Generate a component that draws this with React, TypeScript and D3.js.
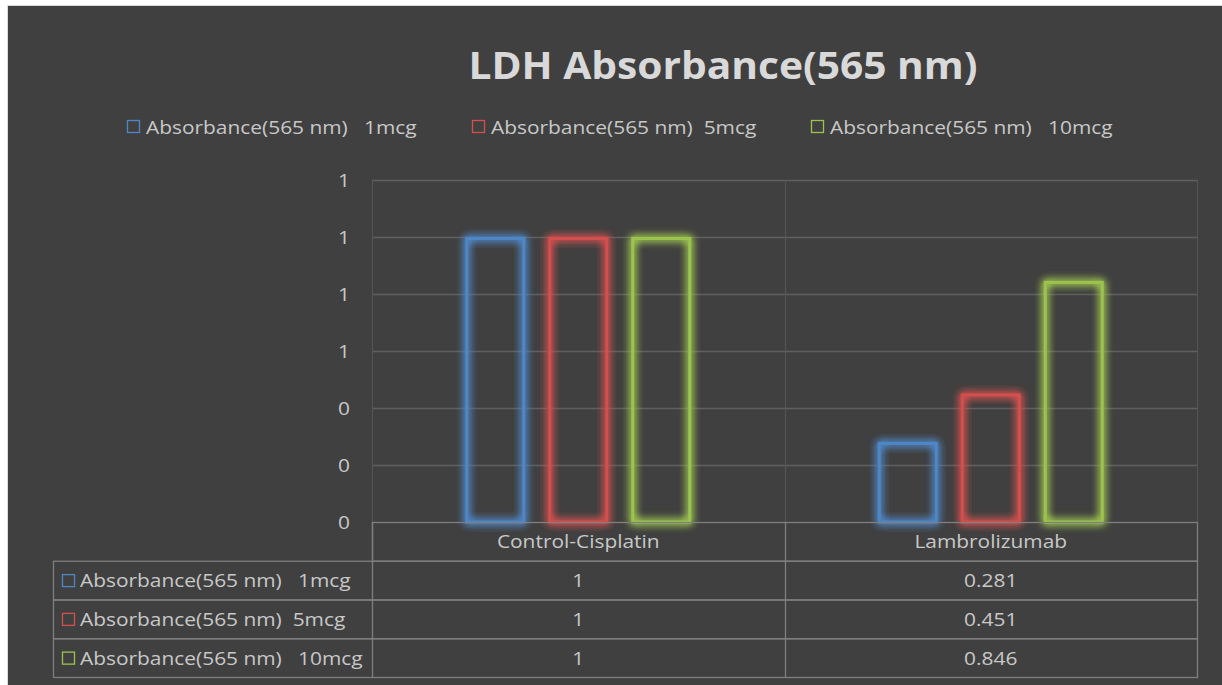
import { useEffect, useRef } from 'react';
import * as d3 from 'd3';

const categories = ['Control-Cisplatin', 'Lambrolizumab'];
const seriesNames = ['Absorbance(565 nm)   1mcg', 'Absorbance(565 nm)  5mcg', 'Absorbance(565 nm)   10mcg'];
const seriesColors = ['#4f86c6', '#d2504e', '#9dc34f'];
const values = [
  [1, 0.281],
  [1, 0.451],
  [1, 0.846],
];
const tableLabels = [
  ['1', '0.281'],
  ['1', '0.451'],
  ['1', '0.846'],
];
const yTicks = [0, 0.2, 0.4, 0.6, 0.8, 1.0, 1.2];

const FONT = '"Open Sans", Lato, sans-serif';
const TXT = '#c8c8c8';
const STRETCH = 1.1; // source font is wider than anything installed

export default function App() {
  const svgRef = useRef<SVGSVGElement>(null);

  useEffect(() => {
    if (!svgRef.current) return;
    const svg = d3.select(svgRef.current);
    svg.selectAll('*').remove();

    const width = 1222;
    const height = 685;
    const plot = { left: 372, right: 1197, top: 180, bottom: 522 };

    // background + border
    svg.append('rect').attr('width', width).attr('height', height).attr('fill', '#ffffff');
    svg
      .append('rect')
      .attr('x', 7.5)
      .attr('y', 5.5)
      .attr('width', width)
      .attr('height', height)
      .attr('fill', '#404040')
      .attr('stroke', '#d9d9d9')
      .attr('stroke-width', 1);

    // glow filters
    const defs = svg.append('defs');
    seriesColors.forEach((c, i) => {
      const f = defs
        .append('filter')
        .attr('id', `glow${i}`)
        .attr('x', '-30%')
        .attr('y', '-30%')
        .attr('width', '160%')
        .attr('height', '160%');
      f.append('feGaussianBlur').attr('in', 'SourceGraphic').attr('stdDeviation', 4.5).attr('result', 'b');
      f.append('feComponentTransfer')
        .attr('in', 'b')
        .attr('result', 'b2')
        .append('feFuncA')
        .attr('type', 'linear')
        .attr('slope', 2.6);
      const m = f.append('feMerge');
      m.append('feMergeNode').attr('in', 'b2');
      m.append('feMergeNode').attr('in', 'SourceGraphic');
    });

    const addText = (tx: number, ty: number, s: string, anchor = 'start', size = 19) =>
      svg
        .append('text')
        .attr('transform', `translate(${tx},${ty}) scale(${STRETCH},1)`)
        .attr('text-anchor', anchor)
        .attr('fill', TXT)
        .attr('font-family', FONT)
        .attr('font-size', size)
        .style('white-space', 'pre')
        .text(s);

    // title
    addText(723, 79, 'LDH Absorbance(565 nm)', 'middle', 37)
      .attr('fill', '#d9d9d9')
      .attr('font-weight', 'bold');

    // legend
    const legendX = [127, 472, 811];
    seriesNames.forEach((name, i) => {
      svg
        .append('rect')
        .attr('x', legendX[i] + 0.5)
        .attr('y', 120.5)
        .attr('width', 12)
        .attr('height', 12)
        .attr('fill', 'none')
        .attr('stroke', seriesColors[i])
        .attr('stroke-width', 1.3);
      addText(legendX[i] + 19, 134, name);
    });

    const x = d3.scaleBand<string>().domain(categories).range([plot.left, plot.right]).padding(0);
    const inner = d3
      .scaleBand<string>()
      .domain(seriesNames)
      .range([0, x.bandwidth()])
      .paddingInner(0.277)
      .paddingOuter(1.124);
    const y = d3.scaleLinear().domain([0, 1.2]).range([plot.bottom, plot.top]);

    // grid
    svg
      .append('g')
      .selectAll('line')
      .data(yTicks.slice(1))
      .join('line')
      .attr('x1', plot.left)
      .attr('x2', plot.right)
      .attr('y1', (d) => Math.round(y(d)) + 0.5)
      .attr('y2', (d) => Math.round(y(d)) + 0.5)
      .attr('stroke', '#5f5f5f')
      .attr('stroke-width', 1.5);

    [plot.left, x(categories[1])!, plot.right].forEach((vx) => {
      svg
        .append('line')
        .attr('x1', Math.round(vx) + 0.5)
        .attr('x2', Math.round(vx) + 0.5)
        .attr('y1', plot.top)
        .attr('y2', plot.bottom)
        .attr('stroke', '#555555')
        .attr('stroke-width', 1);
    });

    // y tick labels (rounded like the source)
    yTicks.forEach((t) => addText(350, y(t) + 7, d3.format('.0f')(t), 'end'));

    // bars
    seriesNames.forEach((name, si) => {
      svg
        .append('g')
        .attr('filter', `url(#glow${si})`)
        .selectAll('rect')
        .data(values[si])
        .join('rect')
        .attr('x', (_, ci) => x(categories[ci])! + inner(name)! + 1.5)
        .attr('width', inner.bandwidth() - 3)
        .attr('y', (d) => y(d) + 1.5)
        .attr('height', (d) => y(0) - y(d) - 1.5)
        .attr('fill', 'none')
        .attr('stroke', seriesColors[si])
        .attr('stroke-width', 3);
    });

    // data table
    const rowH = 38.75;
    const tableLeft = 53;
    const tg = svg.append('g').attr('stroke', '#7f7f7f').attr('stroke-width', 1.3).attr('fill', 'none');
    tg.append('rect')
      .attr('x', plot.left + 0.5)
      .attr('y', plot.bottom + 0.5)
      .attr('width', plot.right - plot.left)
      .attr('height', rowH);
    seriesNames.forEach((_, r) => {
      tg.append('rect')
        .attr('x', tableLeft + 0.5)
        .attr('y', plot.bottom + rowH * (r + 1) + 0.5)
        .attr('width', plot.right - tableLeft)
        .attr('height', rowH);
    });
    [plot.left, x(categories[1])!].forEach((vx) => {
      tg.append('line')
        .attr('x1', Math.round(vx) + 0.5)
        .attr('x2', Math.round(vx) + 0.5)
        .attr('y1', plot.bottom)
        .attr('y2', plot.bottom + rowH * 4);
    });

    categories.forEach((c) => addText(x(c)! + x.bandwidth() / 2, plot.bottom + rowH / 2 + 7, c, 'middle'));

    seriesNames.forEach((name, r) => {
      const cy = plot.bottom + rowH * (r + 1) + rowH / 2;
      svg
        .append('rect')
        .attr('x', 62.5)
        .attr('y', cy - 5.5)
        .attr('width', 12)
        .attr('height', 12)
        .attr('fill', 'none')
        .attr('stroke', seriesColors[r])
        .attr('stroke-width', 1.3);
      addText(80, cy + 7, name);
      categories.forEach((c, ci) => addText(x(c)! + x.bandwidth() / 2, cy + 7, tableLabels[r][ci], 'middle'));
    });
  }, []);

  return (
    <div style={{ position: 'absolute', left: 0, top: 0 }}>
      <svg ref={svgRef} width={1222} height={685} style={{ display: 'block' }} />
    </div>
  );
}
